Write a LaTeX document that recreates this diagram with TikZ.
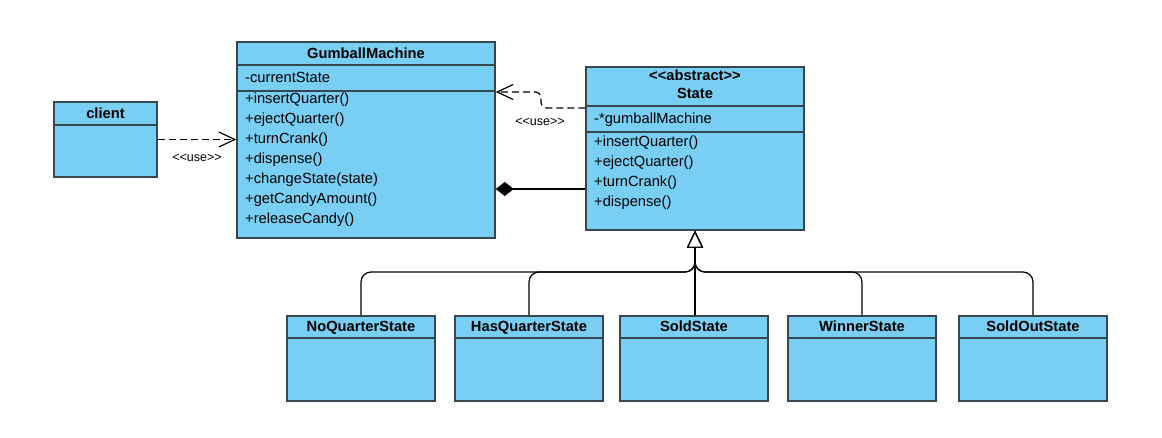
\documentclass[tikz,border=0pt]{standalone}
\usepackage{fontspec}
\setmainfont{Liberation Sans}
\usetikzlibrary{arrows.meta}
\definecolor{boxfill}{HTML}{79CFF3}
\definecolor{boxline}{HTML}{37474F}
\newcommand{\dlt}{<\kern0pt<}
\newcommand{\dgt}{>\kern0pt>}

\begin{document}
\begin{tikzpicture}[x=1pt,y=-1pt,
    classbox/.style={draw=boxline, fill=boxfill, line width=1.5pt, inner sep=0pt},
    sepline/.style={draw=boxline, line width=1.5pt},
    ttl/.style={font=\fontsize{14.7}{18}\selectfont\bfseries, anchor=base, inner sep=0pt},
    mbr/.style={font=\fontsize{14.7}{18}\selectfont, anchor=base west, inner sep=0pt},
    uselbl/.style={font=\fontsize{12.5}{15}\selectfont, inner sep=0pt},
    usedep/.style={-{Straight Barb[length=16pt,width=15pt]}, line width=1.2pt, dash pattern=on 7pt off 4pt},
    inherit/.style={-{Triangle[length=17pt,width=16pt,fill=white]}, line width=1.2pt, rounded corners=10pt},
    compose/.style={{Diamond[length=18pt,width=14pt]}-, line width=1.2pt}]
  \useasboundingbox (0,0) rectangle (1162,438);

  \node[classbox, minimum width=103pt, minimum height=75pt] (client) at (105.5,139.5) {};
  \draw[sepline] (client.west |- 0,125) -- (client.east |- 0,125);
  \node[ttl] (client-ttl) at (105.5,119) {client};

  \node[classbox, minimum width=258pt, minimum height=196pt] (gm) at (366,140) {};
  \draw[sepline] (gm.west |- 0,65) -- (gm.east |- 0,65);
  \draw[sepline] (gm.west |- 0,91) -- (gm.east |- 0,91);
  \node[ttl] (gm-ttl) at (366,59) {GumballMachine};
  \node[mbr] (gm-attr) at (245,83) {-currentState};
  \foreach \m [count=\i from 0] in {+insertQuarter(), +ejectQuarter(), +turnCrank(), +dispense(), +changeState(state), +getCandyAmount(), +releaseCandy()}
    \node[mbr] (gm-op\i) at (245,{104+20*\i}) {\m};

  \node[classbox, minimum width=218pt, minimum height=163pt] (state) at (695,148.5) {};
  \draw[sepline] (state.west |- 0,106) -- (state.east |- 0,106);
  \draw[sepline] (state.west |- 0,132) -- (state.east |- 0,132);
  \node[ttl] (state-st) at (695,81) {\dlt abstract\dgt};
  \node[ttl] (state-ttl) at (695,99) {State};
  \node[mbr] (state-attr) at (594,123.5) {-*gumballMachine};
  \foreach \m [count=\i from 0] in {+insertQuarter(), +ejectQuarter(), +turnCrank(), +dispense()}
    \node[mbr] (state-op\i) at (594,{146.5+20*\i}) {\m};

  \foreach \cls/\cx/\txt in {noq/361/NoQuarterState, hasq/529/HasQuarterState, sold/694/SoldState, winner/862/WinnerState, soldout/1033/SoldOutState} {
    \node[classbox, minimum width=148pt, minimum height=85pt] (\cls) at (\cx,358.5) {};
    \draw[sepline] (\cls.west |- 0,338) -- (\cls.east |- 0,338);
    \node[ttl] (\cls-ttl) at (\cx,331) {\txt};
  }

  \draw[usedep] (client.east) -- (gm.west |- client.east);
  \node[uselbl] (use1) at (197,158) {\dlt use\dgt};
  \draw[usedep, rounded corners=6pt] (state.west |- 0,108) -| (541,92) -- (gm.east |- 0,92);
  \node[uselbl] (use2) at (540,122) {\dlt use\dgt};
  \draw[compose] (gm.east |- 0,189) -- (state.west |- 0,189);

  \foreach \cls in {noq,hasq,winner,soldout}
    \draw[inherit] (\cls.north) |- (695,272) -- (state.south);
  \draw[inherit] (state.south |- sold.north) -- (state.south);
\end{tikzpicture}
\end{document}
